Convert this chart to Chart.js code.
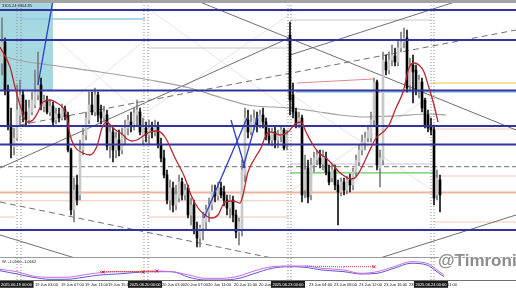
<!DOCTYPE html>
<html><head><meta charset="utf-8">
<script src="https://cdn.jsdelivr.net/npm/chart.js@4.4.1/dist/chart.umd.min.js"></script>
<style>
html,body{margin:0;padding:0;background:#fff;width:516px;height:290px;overflow:hidden}
#topbar{height:3px;background:#a3a3a3}
canvas{display:block}
</style></head><body>
<div id="topbar"></div>
<canvas id="c" width="516" height="287"></canvas>
<script>
// ---------- DATA (XAUUSD M30, 18-24 Jun 2025) ----------
const opens = [3380.5,3391,3367,3349.5,3338.5,3343,3354.5,3364.5,3356,3352,
3356,3359.5,3364.5,3369.5,3359,3362,3356,3359,3352,3355,
3353,3357,3354,3337,3307,3319.5,3314.5,3337,3344.5,3352,
3359.5,3356,3364.5,3356,3353,3354.5,3339,3346,3337,3342,
3337,3344.5,3348,3351,3349.5,3354.5,3356,3342,3348,3344.5,
3348,3346,3349,3339.5,3333,3324.5,3312,3318,3309.5,3313,
3321,3314.5,3318,3304.5,3309.5,3297,3293,3298,3301,3306,
3309.5,3316,3314,3318,3316,3312,3308,3312,3304.5,3296,
3297,3324.5,3352,3346,3349.5,3353,3349.5,3354.5,3351,3344,
3342,3346,3342,3344,3347,3339.5,3394.5,3364.5,3356,3350,
3353,3317,3328,3314.5,3329.5,3332,3333,3330,3333,3326,
3323,3327,3319.5,3316,3321,3317,3322,3319.5,3326,3331,
3337,3340.5,3343,3343,3352,3371,3328,3332,3381,3377,
3382,3384,3381,3388,3391,3393,3369.5,3379.5,3377,3367,
3371,3362,3354.5,3349.5,3347,3314.5,3322];
const highs = [3403,3393,3369.5,3358,3348,3369.5,3372,3367,3362,3362,
3366,3377,3386,3373,3364.5,3364,3362,3361,3358,3358,
3360,3359,3356,3338,3323,3324.5,3342,3348,3356,3366,
3366,3368,3366,3359.5,3359,3357,3349.5,3348,3346,3347,
3348,3352,3354.5,3356,3358,3362,3358,3353,3351,3352,
3351,3352,3351,3343,3337,3327,3322,3321,3319.5,3324.5,
3323,3320,3319.5,3313,3312,3301,3299.5,3306,3309.5,3313,
3319.5,3319.5,3321,3321,3319,3314.5,3314.5,3314,3307,3303,
3332,3358,3357,3354.5,3357,3356,3357,3358,3353,3348,
3348,3349,3347,3349,3348,3347,3401,3370.5,3358,3356,
3354.5,3334.5,3332,3333,3336,3337,3337,3337,3336,3329.5,
3329.5,3329.5,3322,3323,3323,3324,3325,3328,3334.5,3339.5,
3344.5,3346,3349.5,3356,3373,3372,3337,3386,3384.5,3386,
3389.5,3388,3392,3396,3398,3397,3383,3384.5,3379.5,3374.5,
3373,3363,3357,3353,3349.5,3327,3324.5];
const lows = [3374.5,3364.5,3347,3333,3334.5,3342,3349.5,3351,3349.5,3350,
3354.5,3358,3362,3357,3356,3355,3354,3349,3350,3351,
3352,3352,3336,3304.5,3301,3309.5,3312,3334.5,3342,3350,
3354.5,3354,3351,3350,3351,3337,3333,3331,3333,3334,
3335,3339.5,3344.5,3346,3347,3349.5,3344.5,3339.5,3341,3339.5,
3343,3344,3338,3331,3323,3310,3307,3306,3307,3311,
3312,3312,3303,3299.5,3295,3288.5,3288.5,3292,3297,3301,
3307,3311,3312,3313,3309,3304.5,3303,3301,3293,3289.5,
3294,3321,3343,3344.5,3347,3346,3348,3348,3342,3339.5,
3339,3338,3338,3341,3337,3337,3354.5,3353,3348,3348,
3311,3313,3310.5,3312,3326,3329.5,3328,3327,3324.5,3319.5,
3321,3317,3299.5,3314,3314.5,3315,3316,3317,3324,3329,
3334.5,3337,3341,3341,3349.5,3327,3318.5,3329.5,3374.5,3375,
3379,3379,3379,3386,3388,3366,3367,3360.5,3364.5,3363,
3356,3348,3346,3344.5,3309.5,3312,3306];
const closes = [3391,3367,3349.5,3339.5,3343,3357,3364.5,3354.5,3352,3358,
3362,3366,3369.5,3359,3362,3356,3359,3351,3355,3353,
3358,3354,3337,3307,3317,3312,3337,3344.5,3353,3359.5,
3356,3364.5,3354.5,3353,3356,3339,3346,3337,3343,3337,
3344.5,3348,3352,3349.5,3355.5,3357,3346,3349,3344.5,3348,
3346,3349,3339.5,3333,3324.5,3312,3318,3309.5,3314.5,3321,
3314.5,3317,3304.5,3309.5,3297,3293,3298,3303,3307,3309.5,
3316,3314,3318,3314.5,3312,3308,3312,3304.5,3296,3301,
3327,3353,3346,3351,3353,3349.5,3354.5,3351,3344,3342,
3346,3342,3344.5,3347,3338,3344.5,3362,3356,3350,3353,
3314.5,3327,3313.5,3329.5,3333,3334.5,3330,3334,3326,3321,
3327,3319.5,3316,3321,3317,3322,3319.5,3326,3332,3337,
3341,3343,3347,3352,3371,3329.5,3333,3382,3377,3382,
3384.5,3381,3388,3391,3393,3368,3379.5,3376,3367,3372,
3358,3349.5,3348,3347,3313,3323,3314.5];

// red moving average (bar index, price)
const redMaIdx = [-0.67,2.67,4.33,6,8.33,10.33,12,13.67,16,18.33,20.33,21.67,22.67,24.33,27,29.33,31.67,33.33,35,36.67,38.33,40,41.67,43.33,45,47,49.33,51.67,54.33,57.67,61,63,65.33,67.67,69.67,72,74.33,77,79.33,80.33,82,84.33,86.33,88,89.67,92.67,95.33,97.67,99.67,101.33,103.67,105.67,108,110.33,112.33,114.67,116.33,118,120.33,122.33,124.67,127,129,131.33,133.67,135.67,137.33,139,140.67,142.33,144,145.33];
const redMaVal = [3388.5,3378.5,3368.5,3359.5,3351,3352,3356,3361,3362,3360.5,3358,3353,3344.5,3338.5,3335.5,3334.5,3339,3348,3351,3348.5,3346.5,3345,3342.5,3341.5,3342,3344,3346,3346.5,3343.5,3333,3323,3314.5,3308,3304.5,3303,3304.5,3311,3311.5,3310.5,3314.5,3326,3333,3338,3344.5,3346,3344.5,3346,3350,3351,3346,3339.5,3335.5,3333,3329.5,3326,3323.5,3322.5,3323.5,3329.5,3336,3343,3346,3349.5,3358,3366,3378,3380.5,3379.5,3376,3368,3359.5,3351];
// gray slow moving average
const grayMaIdx = [-0.67,5,16,32.67,49.33,62.67,73.33,82,96,103.67,112.67,121,131,142.67,148];
const grayMaVal = [3384.5,3382,3379.5,3376,3372,3368,3363,3359.5,3358,3356.5,3354.5,3353.5,3354,3355,3354.5];

// horizontal price levels
const blueLevels = [3407, 3392, 3366.75, 3349, 3339.75, 3297];
const salmonMainLevel = 3315.75;
const dashedLevel = 3328.7;
// partial levels: [fromIndex, toIndex, price]
const lightBlueLevels = [[6,47.67,3402.5],[98,171.33,3366]];
const grayLevels = [[48.67,96,3388],[96,143,3402],[6,48,3323.6]];
const salmonLevels = [[-0.67,95.67,3311.6],[48.67,95.67,3303.5],[-0.67,4.33,3303.5],[143.67,171.33,3347.5],[143.67,171.33,3324],[143.67,171.33,3301]];
const greenLevels = [[96,143.67,3325.6]];
const yellowLevels = [[143,171.33,3370.5]];
const lavenderLevels = [[96,143,3330]];
// trend lines: [index1, price1, index2, price2]
const grayTrends = [[64.33,3412,171.33,3347],[-0.67,3328,95.67,3393],[96,3384.5,153,3412],[-0.67,3294.5,24.33,3283],[126,3283,171.33,3304.5]];
const dashedTrends = [[6,3349.5,171.33,3397],[-0.67,3311,90,3283]];
const blueTrends = [[12,3369.5,17,3412],[67.33,3303,81.67,3353],[76.33,3352,81,3328],[80.33,3328,85.33,3354.5]];
const redTrends = [[98.33,3370.5,123.67,3372.5]];
const faintTrends = [[17.67,3393,47.67,3353],[19.33,3357,47.67,3392],[49.33,3407,95.67,3357],[49.33,3357,95.67,3404.5],[96.67,3364.5,143.33,3317],[96.67,3317,143.33,3364.5]];
// highlighted zone: [fromIndex, toIndex, priceTop, priceBottom]
const zone = [-0.67, 17, 3412, 3367];
// day separators (bar index)
const separators = [5, 6.33, 47.33, 48.67, 95.33, 96.33, 143, 144];

// oscillator sub-window
const oscIdx = [-0.67,5,10.33,16,21.67,27,32.67,38.33,43.67,49.33,56.67,62.33,67.67,73.33,79,84.33,90,95.67,101,106.67,114,119.67,125,130.67,136.33,141.67,145,147.33];
const oscMain = [-0.03,-0.27,-0.7,-0.83,-0.83,-0.6,-0.37,-0.27,-0.27,-0.2,-0.27,-0.6,-0.93,-0.93,-0.7,-0.17,0.23,0.3,0.3,0.07,-0.1,-0.43,-0.27,0.23,0.73,0.57,-0.1,-0.6];
const oscSignal = [-0.17,-0.5,-0.83,-1.03,-1.03,-0.83,-0.6,-0.5,-0.37,-0.27,-0.27,-0.83,-1.1,-1.1,-0.93,-0.43,0.07,0.23,0.17,-0.1,-0.27,-0.5,-0.43,0.07,0.57,0.4,-0.27,-0.77];
const oscRedSegs = [[32.67,-0.27,51.67,-0.27],[101,0.3,114,0.2],[114,0.23,124,0.23]];
const oscMarkIdx = [33.67,47,51.67,124];
const oscMarkVal = [-0.3,-0.3,-0.2,0.23];

// time axis labels
const tickIdx = [14.83,23.5,31.5,39.17,57.17,64.83,72.5,81.17,89.5,106.17,114.5,122.83,131.17,139.5,147.83,4.83,47.67,95.33,143];
const tickText = ['19 Jun 03:00','19 Jun 07:00','19 Jun 11:00','19 Jun 15:00','20 Jun 03:00','20 Jun 07:00','20 Jun 11:00','20 Jun 15:00','20 Jun 19:00','23 Jun 04:00','23 Jun 08:00','23 Jun 12:00','23 Jun 16:00','23 Jun 20:00','24 Jun 01:00','2025.06.19 00:00','2025.06.20 00:00','2025.06.23 00:00','2025.06.24 00:00'];
const tickIsDate = tickText.map(t => t.startsWith('2025'));

const infoText = '3305.24 3304.85';
const subText = 'W: -1.0160 -1.0662';
const watermark = '@Timronic';

// ---------- CHART ----------
const X_MIN = -2/3, X_MAX = 514/3;
const ds = [];
function line(points, o) {
  return Object.assign({type:'line', data: points, pointRadius:0, borderWidth:1, fill:false,
    yAxisID:'y', tension:0}, o);
}

// zone
ds.push(line([{x:zone[0],y:zone[2]},{x:zone[1],y:zone[2]}], {borderWidth:0, fill:{value:zone[3]}, backgroundColor:'#a6d8e2', order:100}));
faintTrends.forEach(t => ds.push(line([{x:t[0],y:t[1]},{x:t[2],y:t[3]}], {borderColor:'#e4e4e4', order:95})));
grayLevels.forEach(l => ds.push(line([{x:l[0],y:l[2]},{x:l[1],y:l[2]}], {borderColor:'#c4c4c4', order:90})));
lavenderLevels.forEach(l => ds.push(line([{x:l[0],y:l[2]},{x:l[1],y:l[2]}], {borderColor:'#cdbfe8', order:90})));
salmonLevels.forEach(l => ds.push(line([{x:l[0],y:l[2]},{x:l[1],y:l[2]}], {borderColor:'#f2c7b8', order:90})));
lightBlueLevels.forEach(l => ds.push(line([{x:l[0],y:l[2]},{x:l[1],y:l[2]}], {borderColor:'#8fc9ea', borderWidth:1.5, order:89})));
greenLevels.forEach(l => ds.push(line([{x:l[0],y:l[2]},{x:l[1],y:l[2]}], {borderColor:'#5ccc5c', borderWidth:1.2, order:89})));
yellowLevels.forEach(l => ds.push(line([{x:l[0],y:l[2]},{x:l[1],y:l[2]}], {borderColor:'#f4e39c', borderWidth:2, order:89})));
ds.push(line([{x:X_MIN,y:salmonMainLevel},{x:X_MAX,y:salmonMainLevel}], {borderColor:'#efb39e', borderWidth:2, order:88}));
ds.push(line([{x:X_MIN,y:dashedLevel},{x:X_MAX,y:dashedLevel}], {borderColor:'#8a8a8a', borderWidth:1.2, borderDash:[5,3], order:88}));
redTrends.forEach(t => ds.push(line([{x:t[0],y:t[1]},{x:t[2],y:t[3]}], {borderColor:'#e08a8a', order:87})));
separators.forEach(s => {
  ds.push(line([{x:s,y:3283},{x:s,y:3410.5}], {borderColor:'#8c8c8c', borderDash:[1,2], order:85}));
  ds.push(line([{x:s,y:-1.1},{x:s,y:1.1}], {borderColor:'#8c8c8c', borderDash:[1,2], order:85, yAxisID:'y2'}));
});
grayTrends.forEach(t => ds.push(line([{x:t[0],y:t[1]},{x:t[2],y:t[3]}], {borderColor:'#707070', order:80})));
dashedTrends.forEach(t => ds.push(line([{x:t[0],y:t[1]},{x:t[2],y:t[3]}], {borderColor:'#707070', borderDash:[6,4], order:80})));
ds.push(line(grayMaIdx.map((x,i)=>({x, y:grayMaVal[i]})), {borderColor:'#a2a2a2', borderWidth:1.2, tension:0.4, cubicInterpolationMode:'monotone', order:75}));

const ids = opens.map((_, i) => i);
const up = i => closes[i] >= opens[i];
ds.push({type:'bar', data: ids.map(i=>({x:i, y:[lows[i], highs[i]]})), backgroundColor: ids.map(i=>up(i)?'#7d7d7d':'#111'),
  barThickness:1, grouped:false, order:60, yAxisID:'y'});
ds.push({type:'bar', data: ids.map(i=>({x:i, y:[opens[i], closes[i]]})), backgroundColor: ids.map(i=>up(i)?'#c8c8c8':'#000'),
  barThickness:2, grouped:false, order:55, yAxisID:'y'});

blueLevels.forEach(p => ds.push(line([{x:X_MIN,y:p},{x:X_MAX,y:p}], {borderColor:'#33339e', borderWidth:1.8, order:50})));
ds.push(line(redMaIdx.map((x,i)=>({x, y:redMaVal[i]})), {borderColor:'#b8282e', borderWidth:1.3, tension:0.4, cubicInterpolationMode:'monotone', order:45}));
blueTrends.forEach(t => ds.push(line([{x:t[0],y:t[1]},{x:t[2],y:t[3]}], {borderColor:'#2b3fc4', borderWidth:1.3, order:40})));

// sub window
ds.push(line(oscIdx.map((x,i)=>({x, y:oscSignal[i]})), {borderColor:'#5a5ad6', borderWidth:1, tension:0.4, cubicInterpolationMode:'monotone', yAxisID:'y2', order:30}));
ds.push(line(oscIdx.map((x,i)=>({x, y:oscMain[i]})), {borderColor:'#cf6ad8', borderWidth:1, tension:0.4, cubicInterpolationMode:'monotone', yAxisID:'y2', order:29}));
oscRedSegs.forEach(t => ds.push(line([{x:t[0],y:t[1]},{x:t[2],y:t[3]}], {borderColor:'#d23a3a', borderDash:[1,1], yAxisID:'y2', order:28})));
ds.push({type:'scatter', data: oscMarkIdx.map((x,i)=>({x, y:oscMarkVal[i]})), pointStyle:'crossRot', pointRadius:2, borderColor:'#d22', borderWidth:1, yAxisID:'y2', order:27, showLine:false});
// window divider
ds.push(line([{x:X_MIN,y:3283},{x:X_MAX,y:3283}], {borderColor:'#9a9a9a', borderWidth:2, order:20}));

const overlayText = {
  id:'overlayText',
  afterDraw(chart) {
    const c = chart.ctx, a = chart.chartArea, y2 = chart.scales.y2;
    c.save();
    c.textBaseline = 'top';
    c.fillStyle = '#222';
    c.font = '4px "Liberation Sans", Arial, sans-serif';
    c.fillText(infoText, a.left + 2, chart.scales.y.top + 1);
    c.fillText(subText, a.left + 2, y2.top + 2);
    c.textBaseline = 'alphabetic';
    c.font = 'bold 17px "Liberation Sans", Arial, sans-serif';
    c.lineWidth = 2; c.strokeStyle = 'rgba(255,255,255,0.85)';
    c.strokeText(watermark, a.right - 78, y2.top + 8);
    c.fillStyle = '#8c8c8c';
    c.fillText(watermark, a.right - 78, y2.top + 8);
    c.restore();
  }
};

new Chart(document.getElementById('c'), {
  type:'bar',
  data:{datasets: ds},
  options:{
    responsive:false, animation:false, events:[], devicePixelRatio:1,
    layout:{padding:0, autoPadding:false},
    plugins:{legend:{display:false}, tooltip:{enabled:false}},
    scales:{
      x:{type:'linear', min:X_MIN, max:X_MAX, offset:false,
        grid:{display:false, drawTicks:false},
        border:{display:true, color:'#6f6f6f', width:1},
        afterBuildTicks: s => { s.ticks = tickIdx.map(v => ({value:v})); },
        afterFit: s => { s.height = 10; },
        ticks:{autoSkip:false, maxRotation:0, minRotation:0, padding:2,
          font:{family:'"Liberation Sans", Arial, sans-serif', size:4},
          callback:(v, i) => tickText[i],
          color: ctx => tickIsDate[ctx.index] ? '#fff' : '#111',
          showLabelBackdrop: ctx => tickIsDate[ctx.index],
          backdropColor:'#1c1c1c', backdropPadding:{x:1.5, y:1}}
      },
      y:{type:'linear', position:'left', stack:'v', stackWeight:255, weight:1, min:3283, max:3410.5, display:false},
      y2:{type:'linear', position:'left', stack:'v', stackWeight:22, weight:0, min:-1.1, max:1.1, display:false}
    }
  },
  plugins:[overlayText]
});
</script>
</body></html>
